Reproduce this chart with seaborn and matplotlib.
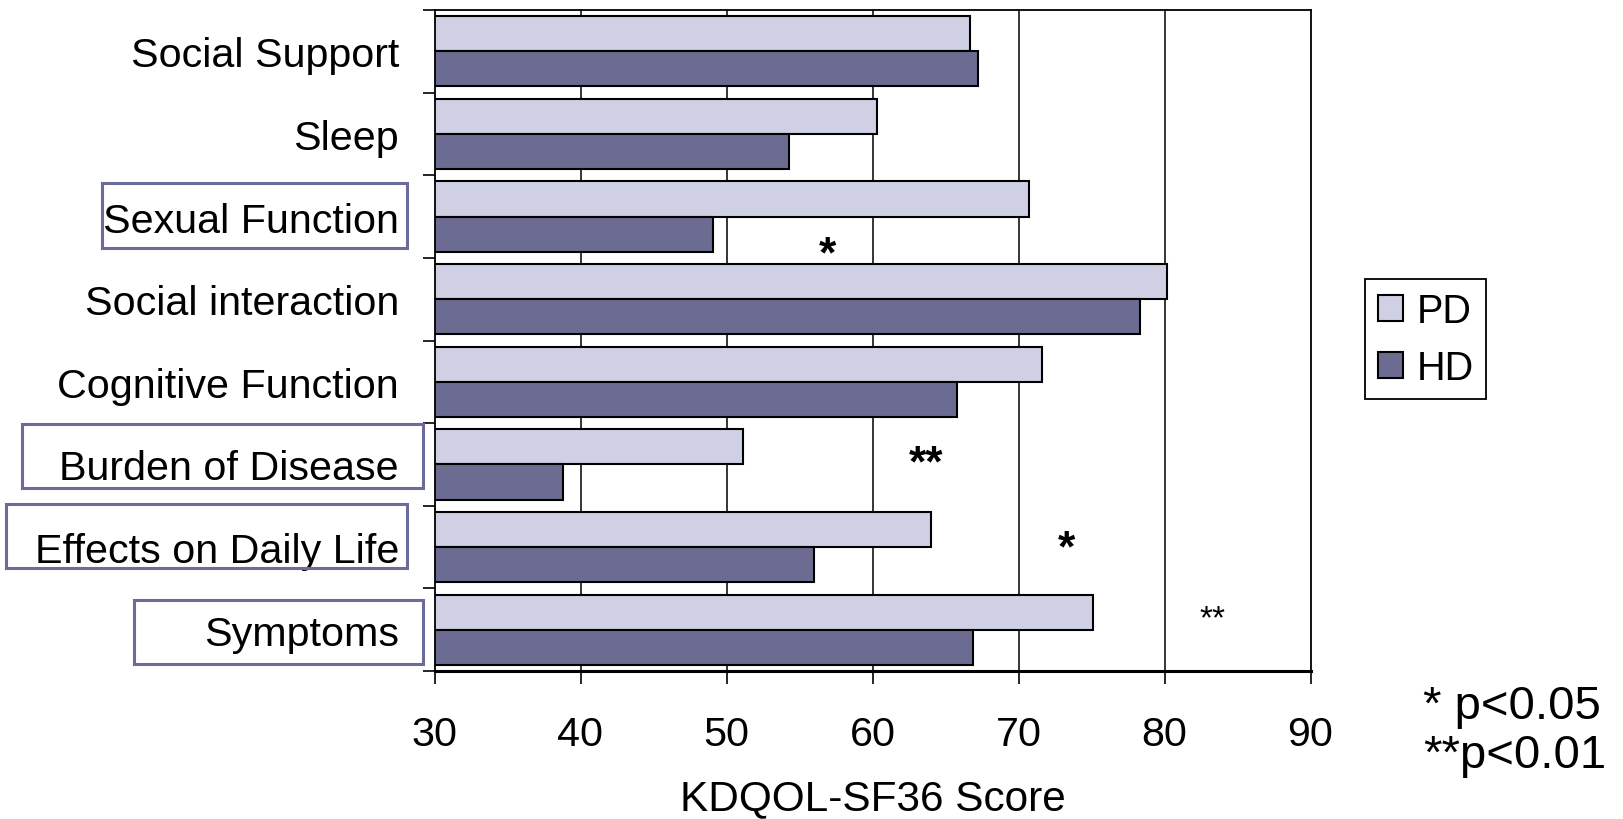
import matplotlib
matplotlib.use("Agg")
import matplotlib.pyplot as plt
from matplotlib.patches import Rectangle
from matplotlib.ticker import FixedLocator
import seaborn as sns
import pandas as pd
import numpy as np

# ---------------- data ----------------
domains = ["Social Support", "Sleep", "Sexual Function", "Social interaction",
           "Cognitive Function", "Burden of Disease", "Effects on Daily Life", "Symptoms"]
pd_scores = [66.7, 60.3, 70.7, 80.2, 71.6, 51.1, 64.0, 75.1]
hd_scores = [67.2, 54.3, 49.1, 78.3, 65.8, 38.8, 56.0, 66.9]
groups = ["PD", "HD"]
x_ticks = [30, 40, 50, 60, 70, 80, 90]
x_label = "KDQOL-SF36 Score"
star_text = ["*", "**", "*", "**"]
star_x = [56.9, 63.7, 73.3, 83.3]
star_y = [2.31, 4.835, 5.87, 6.75]
boxed_domains = ["Sexual Function", "Burden of Disease", "Effects on Daily Life", "Symptoms"]
footnotes = ["* p<0.05", "**p<0.01"]

df = pd.DataFrame({
    "domain": domains * 2,
    "score": pd_scores + hd_scores,
    "group": ["PD"] * len(domains) + ["HD"] * len(domains),
})

# ---------------- style ----------------
sns.set_style("white")
plt.rcParams["font.family"] = ["Liberation Sans", "DejaVu Sans"]
plt.rcParams["text.color"] = "black"
plt.rcParams["axes.labelcolor"] = "black"
plt.rcParams["xtick.color"] = "black"
plt.rcParams["ytick.color"] = "black"
FS = 29.7
W, H = 1623, 820
PD_COLOR = "#CCCCE8"
HD_COLOR = "#666699"
BOX_COLOR = "#6B6B9E"

fig = plt.figure(figsize=(W / 100, H / 100), dpi=100)
L, R, T, B = 434.5, 1310.5, 11, 672
ax = fig.add_axes([L / W, (H - B) / H, (R - L) / W, (B - T) / H])

sns.barplot(data=df, x="score", y="domain", hue="group", order=domains,
            hue_order=groups, palette=[PD_COLOR, HD_COLOR], orient="h",
            width=0.85, edgecolor="black", linewidth=1.5, ax=ax, legend=True)

ax.set_xlim(x_ticks[0], x_ticks[-1])
ax.set_ylim(len(domains) - 0.5, -0.5)
ax.set_xticks(x_ticks)
ax.set_xticklabels([str(t) for t in x_ticks], fontsize=FS)
ax.tick_params(axis="x", direction="out", length=9.5, width=1.2, pad=22,
               color="black", labelcolor="black", bottom=True)
ax.set_yticks(range(len(domains)))
ax.set_yticklabels(domains, fontsize=FS)
ax.tick_params(axis="y", which="major", length=0, pad=25.5, labelcolor="black")
ax.yaxis.set_minor_locator(FixedLocator(np.arange(-0.5, len(domains), 1.0)))
ax.tick_params(axis="y", which="minor", direction="out", length=9, width=1.2,
               color="black", left=True)
ax.set_ylabel("")
ax.set_xlabel(x_label, fontsize=30.5, labelpad=18, color="black")

for xv in x_ticks[1:-1]:
    ax.axvline(xv, color="black", lw=1.1, zorder=0.5)

for side in ["top", "right", "left"]:
    ax.spines[side].set_visible(True)
    ax.spines[side].set_color("black")
    ax.spines[side].set_linewidth(1.3)
ax.spines["bottom"].set_color("black")
ax.spines["bottom"].set_linewidth(2.2)

# stars
for txt, xv, yv in zip(star_text, star_x, star_y):
    small = (txt == "**" and xv > 80)
    fs = 24 if small else 32
    ax.annotate(txt, xy=(xv, yv), xytext=(0, -0.55 * fs), textcoords="offset points",
                ha="center", va="baseline", fontsize=fs,
                fontweight="normal" if small else "bold", zorder=5)

# legend
handles, labels = ax.get_legend_handles_labels()
ax.legend(handles, labels, loc="upper left",
          bbox_to_anchor=(1365 / W, 1 - 280 / H), bbox_transform=fig.transFigure,
          fontsize=28.5, frameon=True, fancybox=False, edgecolor="black",
          framealpha=1, handlelength=0.63, handleheight=0.63, handletextpad=0.35,
          borderpad=0.32, labelspacing=0.48, borderaxespad=0)
leg = ax.get_legend()
leg.get_frame().set_linewidth(1.3)

# boxes around some labels (figure pixel geometry)
box_px = {
    "Sexual Function": (101.7, 407.3, 184.3, 249.3),
    "Burden of Disease": (21.7, 423.3, 425.0, 489.3),
    "Effects on Daily Life": (6.0, 407.3, 505.0, 568.7),
    "Symptoms": (134.3, 423.3, 600.7, 665.0),
}
for name in boxed_domains:
    x0, x1, y0, y1 = box_px[name]
    fig.patches.append(Rectangle((x0 / W, 1 - y1 / H), (x1 - x0) / W, (y1 - y0) / H,
                                 transform=fig.transFigure, fill=False,
                                 edgecolor=BOX_COLOR, linewidth=2.2))

# footnotes
fig.text(1423 / W, 1 - 707 / H, footnotes[0], fontsize=34, ha="left", va="center")
fig.text(1423 / W, 1 - 756 / H, footnotes[1], fontsize=34, ha="left", va="center")

fig.savefig("out.png", dpi=100)
